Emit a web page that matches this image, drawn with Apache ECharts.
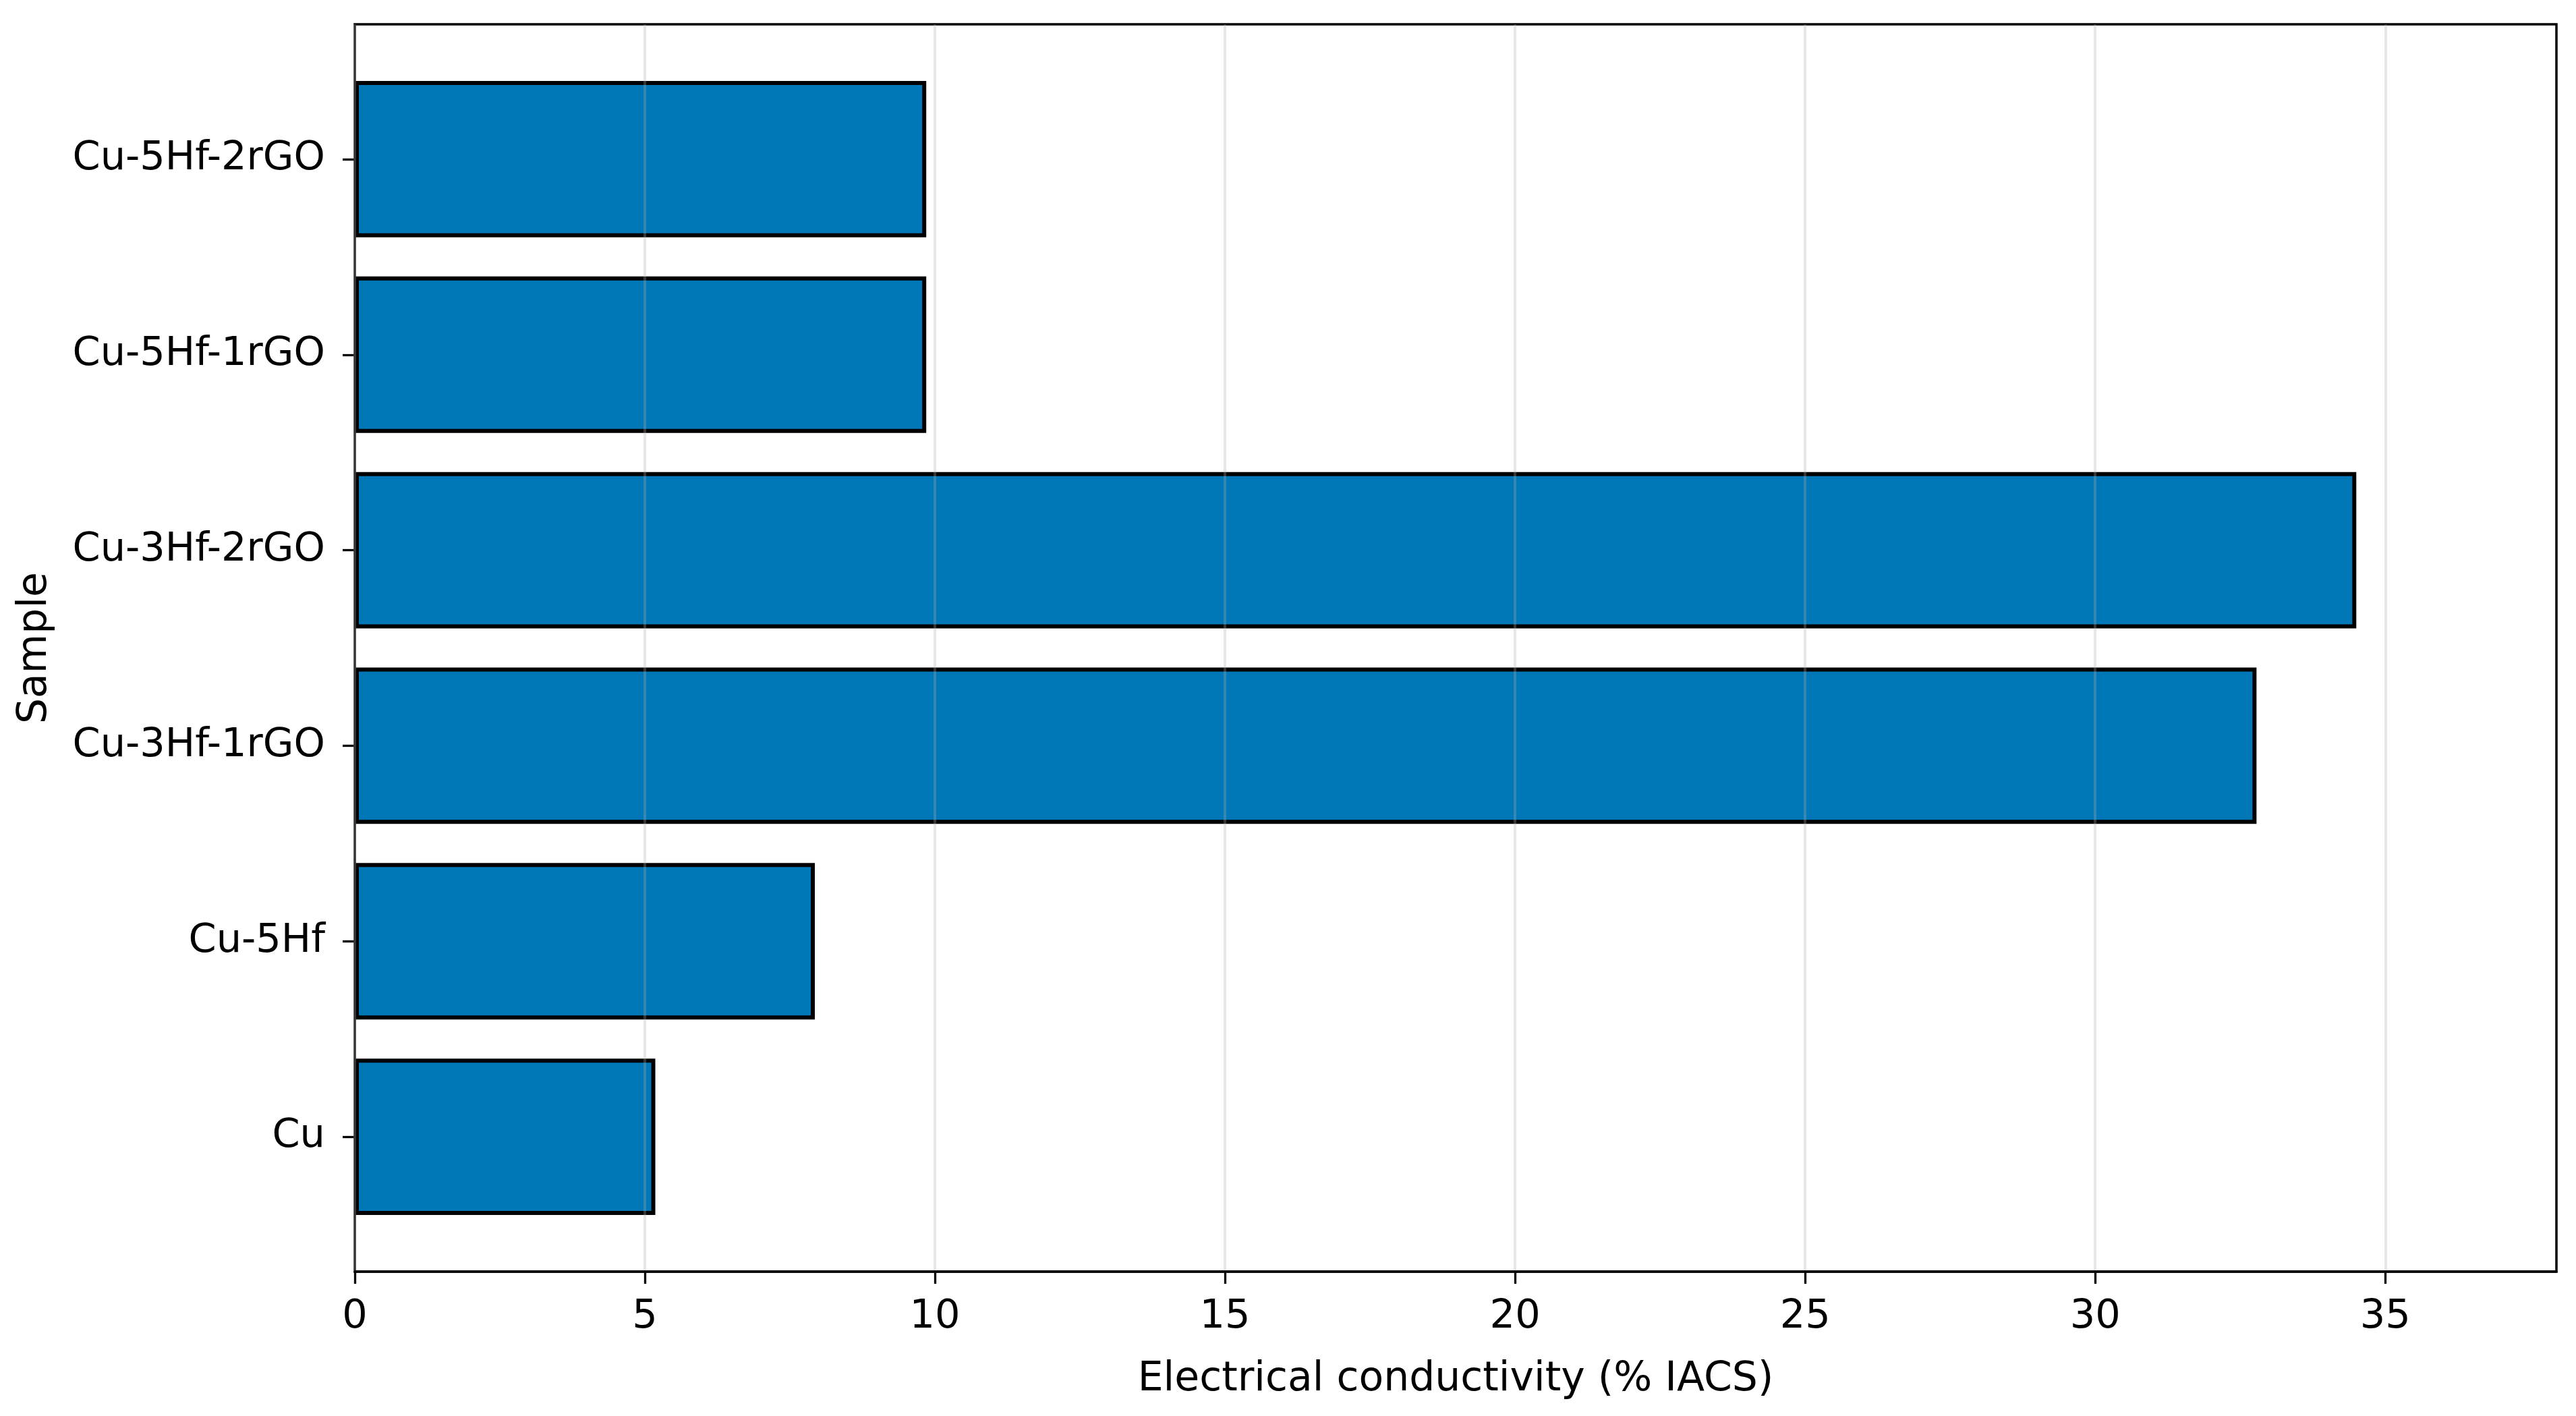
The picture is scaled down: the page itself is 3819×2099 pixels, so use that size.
<!DOCTYPE html>
<html>
<head>
<meta charset="utf-8">
<script src="https://cdn.jsdelivr.net/npm/echarts@6/dist/echarts.min.js"></script>
<style>
html,body{margin:0;padding:0;background:#fff;}
#chart{width:3819px;height:2099px;}
</style>
</head>
<body>
<div id="chart"></div>
<script>
const categories = ['Cu', 'Cu-5Hf', 'Cu-3Hf-1rGO', 'Cu-3Hf-2rGO', 'Cu-5Hf-1rGO', 'Cu-5Hf-2rGO'];
const conductivity = [5.18, 7.93, 32.78, 34.5, 9.85, 9.85];
const xTicks = [0, 5, 10, 15, 20, 25, 30, 35];
const xMax = 37.95;
const xTitle = 'Electrical conductivity (% IACS)';
const yTitle = 'Sample';

const FONT = 'DejaVu Sans';
const FS = 59;
const L = 526, R = 29, T = 36, B = 214, PAD = 55;

const chart = echarts.init(document.getElementById('chart'), null, {renderer: 'canvas'});
chart.setOption({
  backgroundColor: '#ffffff',
  animation: false,
  grid: [
    {left: L, right: R, top: T, bottom: B, show: true, borderColor: '#000', borderWidth: 3.5, backgroundColor: 'transparent'},
    {left: L, right: R, top: T + PAD, bottom: B + PAD}
  ],
  xAxis: [
    {
      gridIndex: 0, type: 'value', min: 0, max: xMax, interval: 5, z: 10,
      name: xTitle, nameLocation: 'middle', nameGap: 130,
      nameTextStyle: {fontFamily: FONT, fontSize: 60, color: '#000'},
      axisLine: {show: true, lineStyle: {color: '#000', width: 3.5}},
      axisTick: {show: true, length: 18, customValues: xTicks, lineStyle: {color: '#000', width: 3.3}},
      axisLabel: {show: true, customValues: xTicks, margin: 38, fontFamily: FONT, fontSize: FS, color: '#000'},
      splitLine: {show: true, lineStyle: {color: 'rgba(176,176,176,0.3)', width: 4}}
    },
    {gridIndex: 1, type: 'value', min: 0, max: xMax, show: false}
  ],
  yAxis: [
    {gridIndex: 0, type: 'value', min: 0, max: 1, show: false},
    {
      gridIndex: 1, type: 'category', data: categories,
      name: yTitle, nameLocation: 'middle', nameGap: 444,
      nameTextStyle: {fontFamily: FONT, fontSize: 60, color: '#000'},
      axisLine: {show: false},
      axisTick: {show: true, alignWithLabel: true, length: 18, lineStyle: {color: '#000', width: 3.3}},
      axisLabel: {show: true, margin: 44, fontFamily: FONT, fontSize: FS, color: '#000'},
      splitLine: {show: false}
    }
  ],
  series: [{
    type: 'bar',
    xAxisIndex: 1, yAxisIndex: 1,
    data: conductivity,
    barWidth: '80%',
    itemStyle: {color: '#0077b6', borderColor: '#000', borderWidth: 6}
  }]
});
</script>
</body>
</html>
